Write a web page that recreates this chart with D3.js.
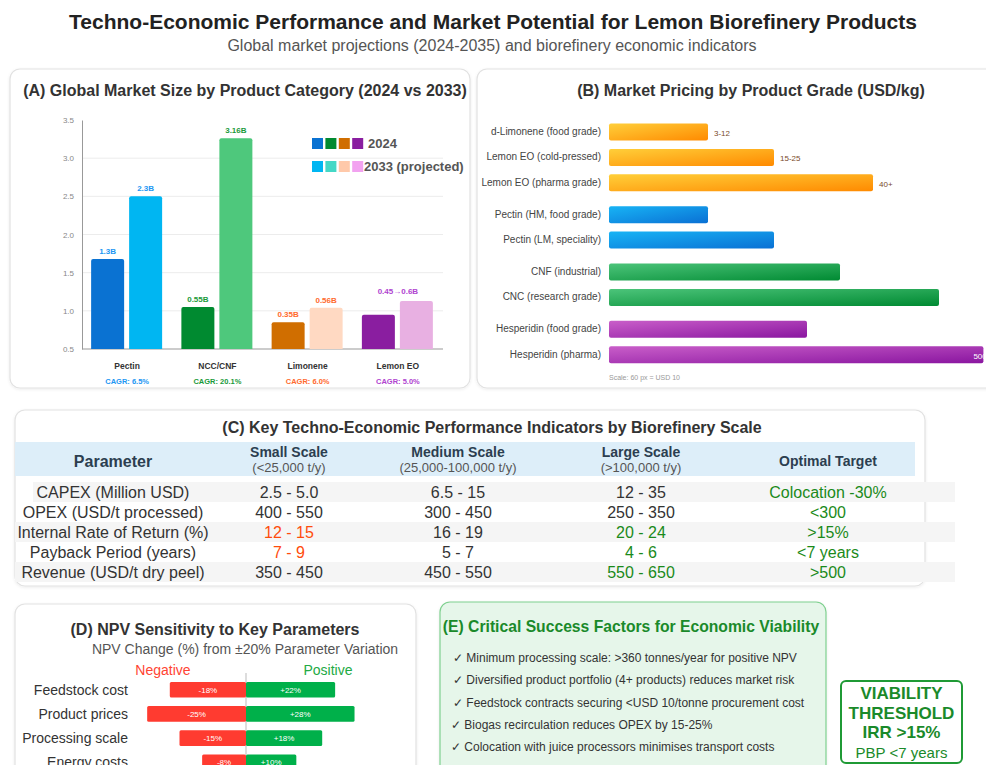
<!DOCTYPE html>
<html>
<head>
<meta charset="utf-8">
<script src="https://cdn.jsdelivr.net/npm/d3@7"></script>
<style>
  body { margin: 0; background: #fff; }
  svg { font-family: "Liberation Sans", Arial, Helvetica, sans-serif; display: block; }
</style>
</head>
<body>
<div id="chart"></div>
<script>
// ---- data ----
// (A) market size
var categories = ["Pectin", "NCC/CNF", "Limonene", "Lemon EO"];
var size2024 = [1.68, 1.05, 0.85, 0.95];
var size2033 = [2.5, 3.26, 1.04, 1.13];
var label2024 = ["1.3B", "0.55B", "0.35B", ""];
var label2033 = ["2.3B", "3.16B", "0.56B", ""];
var groupLabel = ["", "", "", "0.45\u21920.6B"];
var cagr = ["CAGR: 6.5%", "CAGR: 20.1%", "CAGR: 6.0%", "CAGR: 5.0%"];
var yTicks = [0.5, 1.0, 1.5, 2.0, 2.5, 3.0, 3.5];

// (B) pricing
var grades = ["d-Limonene (food grade)", "Lemon EO (cold-pressed)", "Lemon EO (pharma grade)",
  "Pectin (HM, food grade)", "Pectin (LM, speciality)", "CNF (industrial)", "CNC (research grade)",
  "Hesperidin (food grade)", "Hesperidin (pharma)"];
var gradeGroup = [0, 0, 0, 1, 1, 2, 2, 3, 3];
var gradeValue = [16.5, 27.5, 44, 16.5, 27.5, 38.5, 55, 33, 62.4];
var gradeLabel = ["3-12", "15-25", "40+", "", "", "", "", "", "500"];

// (C) table
var tableHead = ["Parameter", "Small Scale", "Medium Scale", "Large Scale", "Optimal Target"];
var tableSub = ["", "(<25,000 t/y)", "(25,000-100,000 t/y)", "(>100,000 t/y)", ""];
var parameters = ["CAPEX (Million USD)", "OPEX (USD/t processed)", "Internal Rate of Return (%)",
  "Payback Period (years)", "Revenue (USD/t dry peel)"];
var smallScale = ["2.5 - 5.0", "400 - 550", "12 - 15", "7 - 9", "350 - 450"];
var mediumScale = ["6.5 - 15", "300 - 450", "16 - 19", "5 - 7", "450 - 550"];
var largeScale = ["12 - 35", "250 - 350", "20 - 24", "4 - 6", "550 - 650"];
var optimal = ["Colocation -30%", "<300", ">15%", "<7 years", ">500"];
var smallFlag = ["", "", "bad", "bad", ""];
var largeFlag = ["", "", "good", "good", "good"];

// (D) sensitivity
var sensParams = ["Feedstock cost", "Product prices", "Processing scale", "Energy costs"];
var sensNeg = [18, 25, 15, 8];
var sensPos = [22, 28, 18, 10];

// (E) factors
var factors = [
  "\u2713 Minimum processing scale: >360 tonnes/year for positive NPV",
  "\u2713 Diversified product portfolio (4+ products) reduces market risk",
  "\u2713 Feedstock contracts securing <USD 10/tonne procurement cost",
  "\u2713 Biogas recirculation reduces OPEX by 15-25%",
  "\u2713 Colocation with juice processors minimises transport costs"];
var threshold = ["VIABILITY", "THRESHOLD", "IRR >15%", "PBP <7 years"];

// ---- drawing ----
var W = 986, H = 765;
var svg = d3.select("#chart").append("svg").attr("width", W).attr("height", H);
var defs = svg.append("defs");

var shadow = defs.append("filter").attr("id", "sh").attr("x", "-5%").attr("y", "-5%").attr("width", "110%").attr("height", "115%");
shadow.append("feDropShadow").attr("dx", 0).attr("dy", 1).attr("stdDeviation", 1.5).attr("flood-color", "#000").attr("flood-opacity", 0.08);

function grad(id, c1, c2) {
  var g = defs.append("linearGradient").attr("id", id).attr("x1", "0%").attr("y1", "0%").attr("x2", "100%").attr("y2", "100%");
  g.append("stop").attr("offset", "0%").attr("stop-color", c1);
  g.append("stop").attr("offset", "100%").attr("stop-color", c2);
}
grad("gOrange", "#ffcf3a", "#ff8a00");
grad("gBlue", "#18b4f5", "#0a70d4");
grad("gGreen", "#4cc47a", "#008a32");
grad("gPurple", "#c95ec9", "#8a16a0");
var groupFill = ["url(#gOrange)", "url(#gBlue)", "url(#gGreen)", "url(#gPurple)"];

function panel(x, y, w, h, fill, stroke) {
  svg.append("rect").attr("x", x).attr("y", y).attr("width", w).attr("height", h)
    .attr("rx", 10).attr("fill", fill || "#fff").attr("stroke", stroke || "#e2e2e2")
    .attr("stroke-width", 1.2).attr("filter", "url(#sh)");
}

// titles
svg.append("text").attr("x", 493).attr("y", 29).attr("text-anchor", "middle")
  .attr("font-size", 21).attr("font-weight", "bold").attr("fill", "#222")
  .text("Techno-Economic Performance and Market Potential for Lemon Biorefinery Products");
svg.append("text").attr("x", 492).attr("y", 51).attr("text-anchor", "middle")
  .attr("font-size", 16).attr("fill", "#555")
  .text("Global market projections (2024-2035) and biorefinery economic indicators");

// ===== (A) =====
panel(10, 69, 460, 319);
svg.append("text").attr("x", 245).attr("y", 96).attr("text-anchor", "middle")
  .attr("font-size", 16).attr("font-weight", "bold").attr("fill", "#333")
  .text("(A) Global Market Size by Product Category (2024 vs 2033)");

var colors2024 = ["#0a72d2", "#008a30", "#d06e00", "#8a1ea0"];
var colors2033 = ["#00b6f2", "#4ec87c", "#ffd9c2", "#e8b0e2"];
var legend2033 = ["#00b6f2", "#44d8c6", "#ffc9aa", "#f2a2f0"];
var textColors = ["#2196f3", "#1a9a3a", "#ff6a2e", "#b044d0"];

var yA = d3.scaleLinear().domain([0.5, 3.5]).range([349, 120]);
var xA = d3.scaleBand().domain(categories).range([82, 443]);
var gA = svg.append("g");

gA.selectAll(".grid").data(yTicks.slice(1, 6)).enter().append("line")
  .attr("x1", 82).attr("x2", 443).attr("y1", function(d) { return yA(d); }).attr("y2", function(d) { return yA(d); })
  .attr("stroke", "#ececec");

var axisA = gA.append("g").attr("transform", "translate(82,0)")
  .call(d3.axisLeft(yA).tickValues(yTicks).tickFormat(d3.format(".1f")).tickSize(0).tickPadding(8));
axisA.select(".domain").attr("stroke", "#999");
axisA.selectAll("text").attr("font-size", 8).attr("fill", "#888").attr("font-family", "Liberation Sans, Arial");
gA.append("line").attr("x1", 82).attr("x2", 443).attr("y1", yA(0.5)).attr("y2", yA(0.5)).attr("stroke", "#999");

var barW = 33;
function roundTop(x, y, w, h, r) {
  return "M" + x + "," + (y + h) + "V" + (y + r) + "Q" + x + "," + y + " " + (x + r) + "," + y +
    "H" + (x + w - r) + "Q" + (x + w) + "," + y + " " + (x + w) + "," + (y + r) + "V" + (y + h) + "Z";
}
categories.forEach(function(c, i) {
  var cx = xA(c) + xA.bandwidth() / 2;
  var x1 = cx - 36, x2 = cx + 2;
  gA.append("path").attr("d", roundTop(x1, yA(size2024[i]), barW, yA(0.5) - yA(size2024[i]), 2)).attr("fill", colors2024[i]);
  gA.append("path").attr("d", roundTop(x2, yA(size2033[i]), barW, yA(0.5) - yA(size2033[i]), 2)).attr("fill", colors2033[i]);
  gA.append("text").attr("x", x1 + barW / 2).attr("y", yA(size2024[i]) - 5).attr("text-anchor", "middle")
    .attr("font-size", 8).attr("font-weight", "bold").attr("fill", textColors[i]).text(label2024[i]);
  gA.append("text").attr("x", x2 + barW / 2).attr("y", yA(size2033[i]) - 5).attr("text-anchor", "middle")
    .attr("font-size", 8).attr("font-weight", "bold").attr("fill", textColors[i]).text(label2033[i]);
  gA.append("text").attr("x", cx).attr("y", yA(size2033[i]) - 7).attr("text-anchor", "middle")
    .attr("font-size", 8).attr("font-weight", "bold").attr("fill", textColors[i]).text(groupLabel[i]);
  gA.append("text").attr("x", cx).attr("y", 369).attr("text-anchor", "middle")
    .attr("font-size", 8.5).attr("font-weight", "bold").attr("fill", "#333").text(c);
  gA.append("text").attr("x", cx).attr("y", 384).attr("text-anchor", "middle")
    .attr("font-size", 7.5).attr("font-weight", "bold").attr("fill", textColors[i]).text(cagr[i]);
});

// legend
[colors2024, legend2033].forEach(function(cols, r) {
  cols.forEach(function(col, j) {
    gA.append("rect").attr("x", 312 + j * 13.4).attr("y", 138 + r * 23).attr("width", 11).attr("height", 11).attr("fill", col);
  });
});
gA.append("text").attr("x", 368).attr("y", 148).attr("font-size", 13).attr("font-weight", "bold").attr("fill", "#555").text("2024");
gA.append("text").attr("x", 364).attr("y", 171).attr("font-size", 13).attr("font-weight", "bold").attr("fill", "#555").text("2033 (projected)");

// ===== (B) =====
panel(477, 69, 520, 319);
svg.append("text").attr("x", 751).attr("y", 96).attr("text-anchor", "middle")
  .attr("font-size", 16).attr("font-weight", "bold").attr("fill", "#333")
  .text("(B) Market Pricing by Product Grade (USD/kg)");

var xB = d3.scaleLinear().domain([0, 10]).range([0, 60]);
var gB = svg.append("g");
var barH = 17;
grades.forEach(function(g, i) {
  var cy = 132 + i * 25.4 + gradeGroup[i] * 6.5;
  gB.append("rect").attr("x", 609).attr("y", cy - barH / 2).attr("width", xB(gradeValue[i])).attr("height", barH)
    .attr("rx", 2).attr("fill", groupFill[gradeGroup[i]]);
  gB.append("text").attr("x", 601).attr("y", cy + 3).attr("text-anchor", "end")
    .attr("font-size", 10).attr("fill", "#444").text(g);
  var inside = i === grades.length - 1;
  gB.append("text").attr("x", inside ? 609 + xB(gradeValue[i]) - 10 : 609 + xB(gradeValue[i]) + 6).attr("y", cy + 4)
    .attr("font-size", 8).attr("fill", inside ? "#fff" : "#7a4a2a").text(gradeLabel[i]);
});
gB.append("text").attr("x", 609).attr("y", 380).attr("font-size", 7).attr("fill", "#999").text("Scale: 60 px = USD 10");

// ===== (C) =====
panel(15, 410, 910, 176);
svg.append("text").attr("x", 492).attr("y", 433).attr("text-anchor", "middle")
  .attr("font-size", 16).attr("font-weight", "bold").attr("fill", "#333")
  .text("(C) Key Techno-Economic Performance Indicators by Biorefinery Scale");

var colX = [113, 289, 458, 641, 828];
svg.append("rect").attr("x", 15).attr("y", 442).attr("width", 900).attr("height", 34).attr("fill", "#ddeef9");
tableHead.forEach(function(h, i) {
  var hasSub = tableSub[i] !== "";
  svg.append("text").attr("x", colX[i]).attr("y", hasSub ? 457 : (i === 0 ? 467 : 466)).attr("text-anchor", "middle")
    .attr("font-size", i === 0 ? 16 : 14).attr("font-weight", "bold").attr("fill", "#2c3e50").text(h);
  if (hasSub) {
    svg.append("text").attr("x", colX[i]).attr("y", 472).attr("text-anchor", "middle")
      .attr("font-size", 13).attr("fill", "#555").text(tableSub[i]);
  }
});
var rowY = d3.scaleBand().domain(d3.range(parameters.length)).range([482, 582]);
parameters.forEach(function(p, r) {
  var y0 = rowY(r), cy = y0 + rowY.bandwidth() / 2;
  if (r % 2 === 0) {
    svg.append("rect").attr("x", r === 0 ? 33 : 15).attr("y", y0).attr("width", r === 0 ? 922 : 940).attr("height", rowY.bandwidth())
      .attr("fill", "#f5f5f5");
  }
  var cells = [p, smallScale[r], mediumScale[r], largeScale[r], optimal[r]];
  var fills = ["#333", smallFlag[r] === "bad" ? "#ff4c0c" : "#333", "#333",
    largeFlag[r] === "good" ? "#1a8a1a" : "#333", "#1a8a1a"];
  cells.forEach(function(c, i) {
    svg.append("text").attr("x", colX[i]).attr("y", cy + 6).attr("text-anchor", "middle")
      .attr("font-size", 16).attr("fill", fills[i]).text(c);
  });
});

// ===== (D) =====
panel(15, 604, 401, 175);
svg.append("text").attr("x", 215).attr("y", 635).attr("text-anchor", "middle")
  .attr("font-size", 16).attr("font-weight", "bold").attr("fill", "#333")
  .text("(D) NPV Sensitivity to Key Parameters");
svg.append("text").attr("x", 245).attr("y", 654).attr("text-anchor", "middle")
  .attr("font-size", 14).attr("fill", "#555")
  .text("NPV Change (%) from \u00b120% Parameter Variation");
var cx0 = 246;
svg.append("text").attr("x", 163).attr("y", 675).attr("text-anchor", "middle").attr("font-size", 14).attr("fill", "#ff4433").text("Negative");
svg.append("text").attr("x", 328).attr("y", 675).attr("text-anchor", "middle").attr("font-size", 14).attr("fill", "#22aa44").text("Positive");

var wD = d3.scaleLinear().domain([0, 30]).range([18, 115]);
var yD = d3.scaleBand().domain(sensParams).range([678, 774]).paddingInner(0.36).paddingOuter(0.16);
svg.append("line").attr("x1", cx0).attr("x2", cx0).attr("y1", 673).attr("y2", 765).attr("stroke", "#bbb");
sensParams.forEach(function(p, i) {
  var y = yD(p), h = yD.bandwidth(), cy = y + h / 2;
  svg.append("rect").attr("x", cx0 - wD(sensNeg[i])).attr("y", y).attr("width", wD(sensNeg[i])).attr("height", h)
    .attr("rx", 1.5).attr("fill", "#ff3b30");
  svg.append("rect").attr("x", cx0).attr("y", y).attr("width", wD(sensPos[i])).attr("height", h)
    .attr("rx", 1.5).attr("fill", "#00b04a");
  svg.append("text").attr("x", cx0 - wD(sensNeg[i]) / 2).attr("y", cy + 3).attr("text-anchor", "middle")
    .attr("font-size", 8).attr("fill", "#fff").text("-" + sensNeg[i] + "%");
  svg.append("text").attr("x", cx0 + wD(sensPos[i]) / 2).attr("y", cy + 3).attr("text-anchor", "middle")
    .attr("font-size", 8).attr("fill", "#fff").text("+" + sensPos[i] + "%");
  svg.append("text").attr("x", 128).attr("y", cy + 5).attr("text-anchor", "end")
    .attr("font-size", 14).attr("fill", "#333").text(p);
});

// ===== (E) =====
panel(440, 602, 386, 175, "#e6f6ea", "#7fd08f");
svg.append("text").attr("x", 631).attr("y", 632).attr("text-anchor", "middle")
  .attr("font-size", 15.7).attr("font-weight", "bold").attr("fill", "#1a8a2a")
  .text("(E) Critical Success Factors for Economic Viability");
factors.forEach(function(f, i) {
  svg.append("text").attr("x", 453 - (i > 2 ? 2 : 0)).attr("y", 662 + i * 22.3)
    .attr("font-size", 12).attr("fill", "#333").text(f);
});

svg.append("rect").attr("x", 841).attr("y", 681).attr("width", 121).attr("height", 82).attr("rx", 5)
  .attr("fill", "#fff").attr("stroke", "#1f9a35").attr("stroke-width", 2);
threshold.forEach(function(t, i) {
  svg.append("text").attr("x", 901.5).attr("y", 699 + i * 19.5).attr("text-anchor", "middle")
    .attr("font-size", i < 3 ? 17 : 15).attr("font-weight", i < 3 ? "bold" : "normal")
    .attr("fill", "#1a8a2a").text(t);
});
</script>
</body>
</html>
